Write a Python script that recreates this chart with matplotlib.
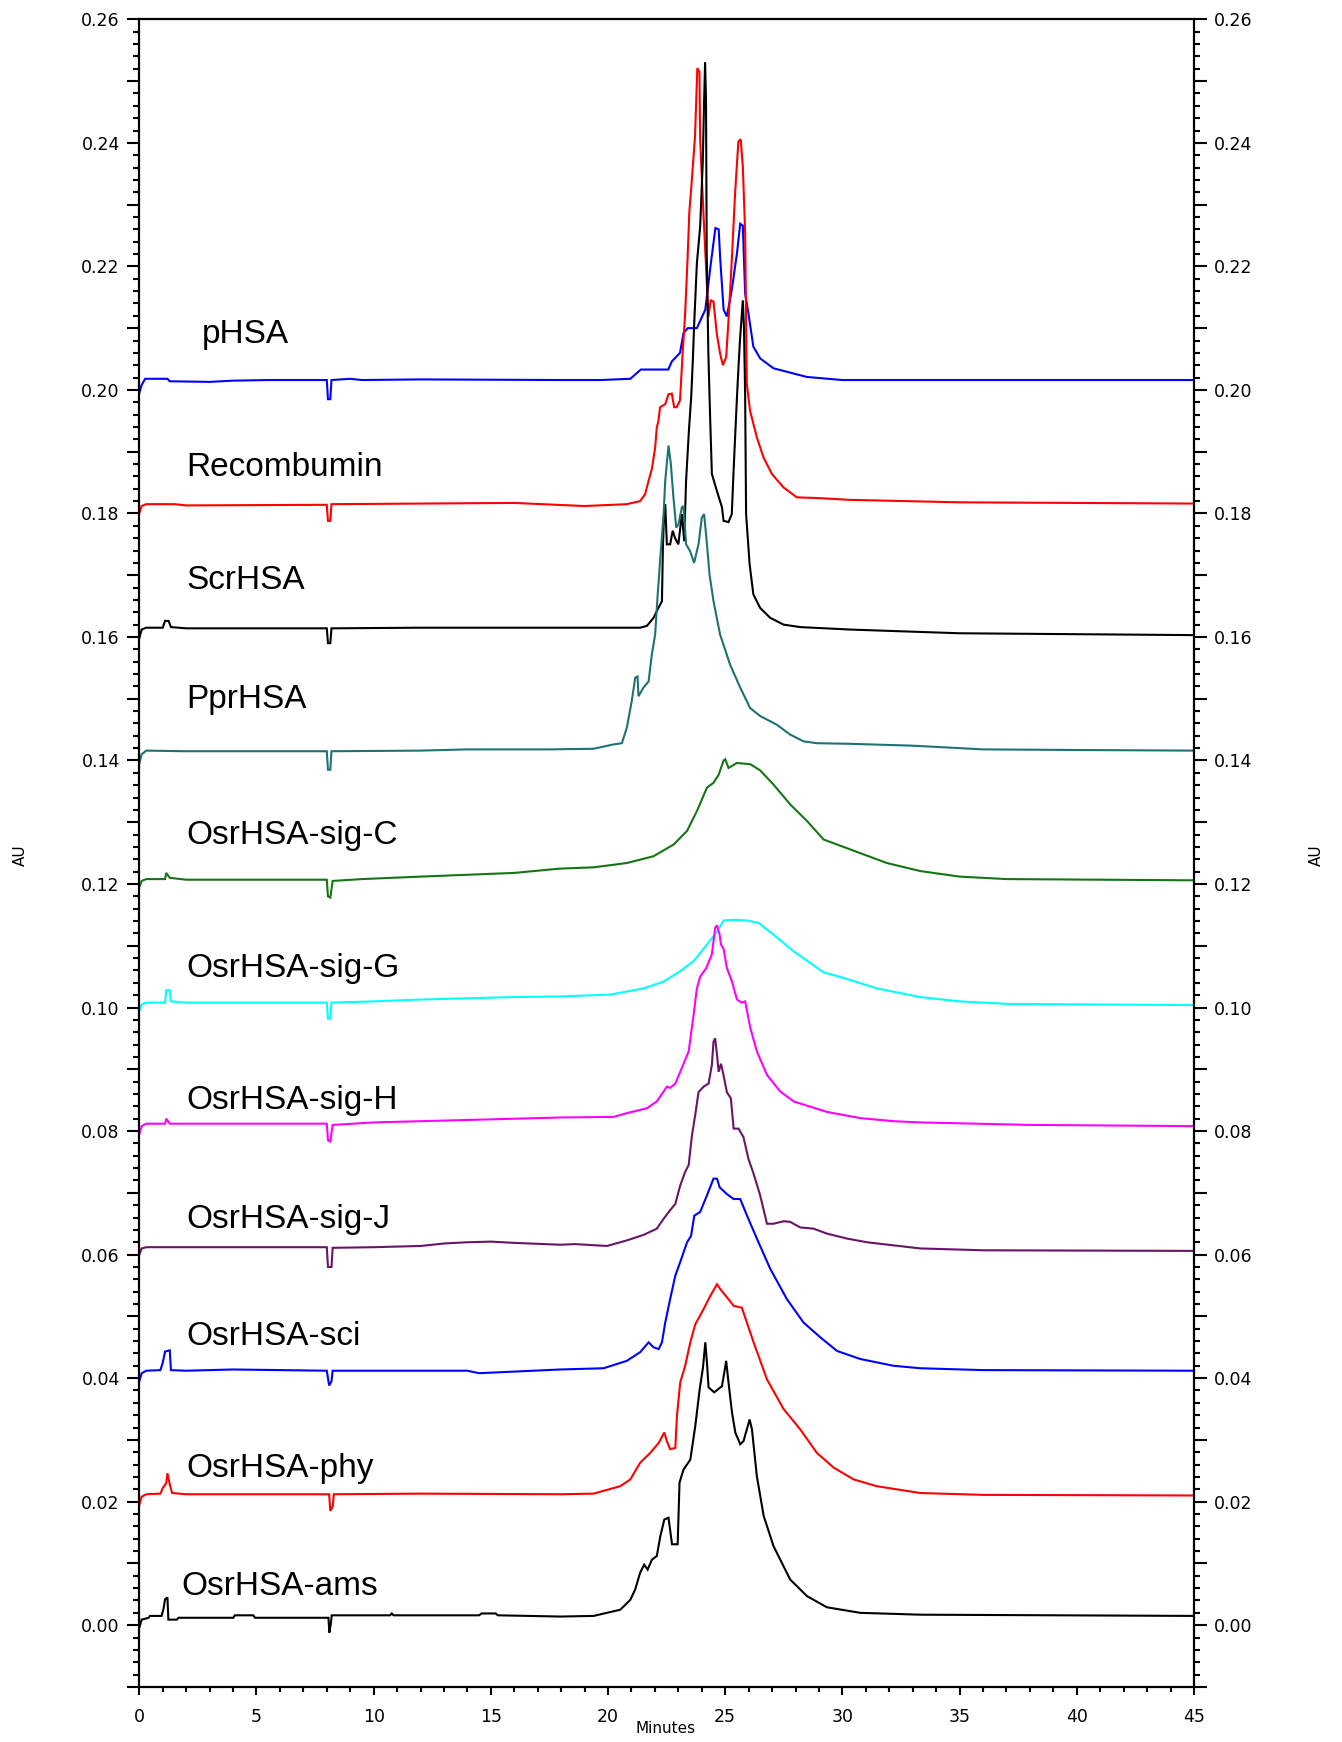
import matplotlib
matplotlib.use("Agg")
import matplotlib.pyplot as plt
from matplotlib.ticker import FixedLocator, MultipleLocator, FuncFormatter

# ---- chromatogram traces (retention time in minutes, absorbance in AU) ----
pHSA_t = [0.0, 0.1, 0.25, 1.2, 1.3, 3.0, 4.0, 5.5, 8.0, 8.05, 8.15, 8.2, 9.0, 9.5, 12.0, 18.0,
          19.66, 20.95, 21.4, 22.57, 22.72, 23.07, 23.22, 23.4, 23.79, 24.15, 24.37, 24.58, 24.72,
          24.79, 24.93, 25.07, 25.28, 25.5, 25.64, 25.75, 25.85, 25.99, 26.2, 26.49, 27.06, 28.48,
          30.0, 45.0]
pHSA_a = [0.1995, 0.2008, 0.2018, 0.2018, 0.2014, 0.2013, 0.2015, 0.2016, 0.2016, 0.1985, 0.1985,
          0.2016, 0.2018, 0.2016, 0.2017, 0.2016,
          0.2016, 0.2018, 0.2033, 0.2033, 0.2046, 0.2060, 0.2092, 0.2100, 0.2100, 0.2130, 0.2200,
          0.2262, 0.2260, 0.2210, 0.2130, 0.2119, 0.2162, 0.2221, 0.2269, 0.2266, 0.2156, 0.2124,
          0.2070, 0.2051, 0.2035, 0.2021, 0.2016, 0.2016]

recombumin_t = [0.0, 0.1, 0.3, 1.5, 2.0, 8.0, 8.05, 8.15, 8.2, 12.0, 16.0, 19.0, 20.8, 21.37, 21.58,
                21.73, 21.87, 22.01, 22.08, 22.15, 22.22, 22.44, 22.58, 22.72, 22.82, 22.93, 23.07,
                23.19, 23.29, 23.39, 23.47, 23.57, 23.71, 23.81, 23.9, 23.93, 24.07, 24.18, 24.28,
                24.38, 24.5, 24.64, 24.78, 24.9, 25.04, 25.14, 25.28, 25.42, 25.56, 25.66, 25.75,
                25.85, 25.92, 26.06, 26.35, 26.63, 26.99, 27.49, 28.06, 28.91, 30.33, 35.0, 45.0]
recombumin_a = [0.1800, 0.1812, 0.1815, 0.1815, 0.1813, 0.1814, 0.1788, 0.1788, 0.1815, 0.1816,
                0.1817, 0.1812, 0.1815, 0.1820, 0.1831, 0.1853, 0.1872, 0.1907, 0.1939, 0.1950,
                0.1972, 0.1977, 0.1993, 0.1994, 0.1972, 0.1972, 0.1983, 0.2064, 0.2124, 0.2210,
                0.2289, 0.2337, 0.2410, 0.2521, 0.2515, 0.2405, 0.2286, 0.2200, 0.2118, 0.2145,
                0.2143, 0.2091, 0.2059, 0.2040, 0.2053, 0.2113, 0.2210, 0.2318, 0.2402, 0.2406,
                0.2362, 0.2254, 0.2010, 0.1966, 0.1923, 0.1891, 0.1864, 0.1842, 0.1826, 0.1825,
                0.1822, 0.1818, 0.1816]

scrHSA_t = [0.0, 0.1, 0.3, 1.0, 1.1, 1.25, 1.35, 2.0, 8.0, 8.05, 8.15, 8.2, 12.0, 18.0, 21.37, 21.66,
            21.94, 22.15, 22.3, 22.34, 22.4, 22.44, 22.51, 22.65, 22.76, 22.86, 23.0, 23.15, 23.25,
            23.33, 23.45, 23.55, 23.62, 23.67, 23.79, 23.93, 24.04, 24.1, 24.14, 24.18, 24.21,
            24.28, 24.36, 24.43, 24.64, 24.86, 24.93, 25.14, 25.28, 25.35, 25.5, 25.57, 25.63,
            25.75, 25.8, 25.85, 25.89, 26.04, 26.2, 26.49, 26.92, 27.49, 28.2, 30.33, 35.0, 45.0]
scrHSA_a = [0.1598, 0.1612, 0.1615, 0.1615, 0.1626, 0.1626, 0.1616, 0.1614, 0.1614, 0.1590, 0.1590,
            0.1614, 0.1615, 0.1615, 0.1615, 0.1618, 0.1631, 0.1647, 0.1658, 0.1745, 0.1810, 0.1815,
            0.1750, 0.1750, 0.1772, 0.1760, 0.1750, 0.1799, 0.1755, 0.1853, 0.1934, 0.1990, 0.2050,
            0.2102, 0.2205, 0.2264, 0.2367, 0.2470, 0.2530, 0.2470, 0.2221, 0.2059, 0.1950, 0.1864,
            0.1837, 0.1810, 0.1788, 0.1786, 0.1799, 0.1864, 0.1988, 0.2040, 0.2081, 0.2145, 0.2100,
            0.1990, 0.1799, 0.1718, 0.1669, 0.1647, 0.1631, 0.1620, 0.1616, 0.1612, 0.1606, 0.1603]

pprHSA_t = [0.0, 0.1, 0.3, 2.0, 8.0, 8.05, 8.15, 8.2, 12.0, 14.0, 16.0, 17.53, 19.38, 20.23, 20.59,
            20.8, 21.01, 21.16, 21.26, 21.3, 21.51, 21.73, 21.87, 22.01, 22.11, 22.22, 22.37, 22.44,
            22.58, 22.68, 22.79, 22.91, 23.01, 23.15, 23.22, 23.33, 23.5, 23.67, 23.86, 24.0, 24.1,
            24.22, 24.33, 24.5, 24.78, 25.21, 25.64, 26.06, 26.49, 27.2, 27.77, 28.34, 28.91, 30.33,
            33.0, 36.0, 40.0, 45.0]
pprHSA_a = [0.1395, 0.1410, 0.1416, 0.1415, 0.1415, 0.1385, 0.1385, 0.1415, 0.1416, 0.1418, 0.1418,
            0.1418, 0.1419, 0.1426, 0.1428, 0.1453, 0.1496, 0.1534, 0.1536, 0.1504, 0.1518, 0.1528,
            0.1572, 0.1604, 0.1664, 0.1723, 0.1799, 0.1853, 0.1910, 0.1880, 0.1826, 0.1777, 0.1783,
            0.1810, 0.1812, 0.1750, 0.1739, 0.1720, 0.1750, 0.1793, 0.1799, 0.1750, 0.1701, 0.1658,
            0.1604, 0.1555, 0.1518, 0.1485, 0.1472, 0.1458, 0.1442, 0.1431, 0.1428, 0.1427, 0.1424,
            0.1418, 0.1417, 0.1416]

sigC_t = [0.0, 0.1, 0.3, 1.1, 1.15, 1.3, 2.0, 8.0, 8.05, 8.15, 8.25, 9.5, 12.0, 14.0, 16.0, 17.96,
          19.38, 20.8, 21.94, 22.8, 23.37, 23.79, 24.22, 24.5, 24.72, 24.93, 25.0, 25.14, 25.5,
          26.07, 26.49, 27.06, 27.77, 28.49, 29.2, 29.77, 30.76, 31.9, 33.32, 35.0, 37.0, 45.0]
sigC_a = [0.1195, 0.1205, 0.1208, 0.1208, 0.1218, 0.1210, 0.1207, 0.1207, 0.1180, 0.1178, 0.1205,
          0.1208, 0.1212, 0.1215, 0.1218, 0.1225, 0.1227, 0.1234, 0.1245, 0.1264, 0.1286, 0.1318,
          0.1356, 0.1364, 0.1377, 0.1400, 0.1402, 0.1388, 0.1396, 0.1394, 0.1384, 0.1361, 0.1329,
          0.1302, 0.1272, 0.1264, 0.1250, 0.1234, 0.1221, 0.1212, 0.1208, 0.1206]

sigG_t = [0.0, 0.1, 0.3, 1.1, 1.15, 1.3, 1.35, 2.0, 8.0, 8.05, 8.15, 8.2, 10.0, 12.0, 14.0, 16.0,
          17.96, 20.09, 21.52, 22.37, 23.08, 23.65, 24.22, 24.65, 24.93, 25.36, 25.93, 26.42, 27.06,
          27.92, 29.2, 30.05, 31.47, 33.32, 35.0, 37.0, 45.0]
sigG_a = [0.0995, 0.1005, 0.1008, 0.1008, 0.1028, 0.1028, 0.1010, 0.1008, 0.1008, 0.0982, 0.0982,
          0.1008, 0.1010, 0.1013, 0.1015, 0.1017, 0.1018, 0.1021, 0.1031, 0.1042, 0.1059, 0.1075,
          0.1102, 0.1123, 0.1141, 0.1142, 0.1141, 0.1137, 0.1118, 0.1091, 0.1057, 0.1048, 0.1031,
          0.1017, 0.1010, 0.1006, 0.1004]

sigH_t = [0.0, 0.1, 0.3, 1.1, 1.15, 1.3, 8.0, 8.05, 8.15, 8.25, 10.0, 12.0, 14.0, 16.0, 17.96, 20.24,
          20.8, 21.66, 22.08, 22.37, 22.51, 22.65, 22.87, 23.08, 23.44, 23.65, 23.79, 23.93, 24.19,
          24.43, 24.57, 24.65, 24.76, 24.82, 24.93, 25.07, 25.29, 25.5, 25.71, 25.85, 26.07, 26.35,
          26.78, 27.35, 27.92, 29.34, 30.76, 32.19, 33.32, 38.0, 45.0]
sigH_a = [0.0795, 0.0808, 0.0812, 0.0812, 0.0820, 0.0812, 0.0812, 0.0785, 0.0783, 0.0810, 0.0814,
          0.0816, 0.0818, 0.0820, 0.0822, 0.0823, 0.0829, 0.0837, 0.0848, 0.0864, 0.0872, 0.0870,
          0.0877, 0.0896, 0.0929, 0.0988, 0.1031, 0.1050, 0.1064, 0.1086, 0.1129, 0.1133, 0.1118,
          0.1102, 0.1095, 0.1064, 0.1042, 0.1013, 0.1008, 0.1010, 0.0967, 0.0929, 0.0891, 0.0864,
          0.0848, 0.0831, 0.0821, 0.0816, 0.0814, 0.0810, 0.0808]

sigJ_t = [0.0, 0.1, 0.3, 2.0, 8.0, 8.05, 8.2, 8.25, 10.0, 12.0, 13.0, 14.0, 15.0, 16.0, 17.96, 18.6,
          19.95, 20.8, 21.52, 22.08, 22.37, 22.65, 22.87, 23.08, 23.29, 23.44, 23.58, 23.72, 23.86,
          24.08, 24.29, 24.43, 24.5, 24.57, 24.65, 24.72, 24.82, 24.93, 25.07, 25.24, 25.36, 25.57,
          25.78, 25.99, 26.21, 26.49, 26.78, 27.06, 27.49, 27.77, 28.2, 28.77, 29.34, 30.19, 31.05,
          32.18, 33.32, 36.0, 45.0]
sigJ_a = [0.0600, 0.0610, 0.0612, 0.0612, 0.0612, 0.0580, 0.0580, 0.0611, 0.0612, 0.0614, 0.0618,
          0.0620, 0.0621, 0.0619, 0.0616, 0.0617, 0.0614, 0.0623, 0.0632, 0.0642, 0.0658, 0.0672,
          0.0682, 0.0712, 0.0734, 0.0745, 0.0793, 0.0826, 0.0863, 0.0872, 0.0877, 0.0907, 0.0945,
          0.0950, 0.0923, 0.0896, 0.0909, 0.0890, 0.0863, 0.0853, 0.0804, 0.0804, 0.0790, 0.0755,
          0.0731, 0.0696, 0.0650, 0.0650, 0.0654, 0.0653, 0.0644, 0.0642, 0.0634, 0.0626, 0.0620,
          0.0615, 0.0610, 0.0607, 0.0606]

sci_t = [0.0, 0.1, 0.3, 0.9, 1.0, 1.1, 1.3, 1.35, 2.0, 4.0, 8.0, 8.1, 8.2, 8.25, 10.0, 14.0, 14.5,
         17.96, 19.81, 20.8, 21.37, 21.73, 21.94, 22.16, 22.3, 22.44, 22.65, 22.87, 23.08, 23.37,
         23.54, 23.68, 23.93, 24.22, 24.5, 24.65, 24.76, 25.07, 25.36, 25.64, 25.93, 26.35, 26.92,
         27.63, 28.34, 29.06, 29.77, 30.76, 32.18, 33.32, 36.0, 45.0]
sci_a = [0.0395, 0.0408, 0.0412, 0.0413, 0.0425, 0.0443, 0.0445, 0.0413, 0.0412, 0.0414, 0.0412,
         0.0388, 0.0395, 0.0412, 0.0412, 0.0412, 0.0408, 0.0414, 0.0416, 0.0428, 0.0442, 0.0458,
         0.0450, 0.0447, 0.0458, 0.0490, 0.0528, 0.0566, 0.0588, 0.0620, 0.0630, 0.0663, 0.0669,
         0.0696, 0.0723, 0.0723, 0.0709, 0.0698, 0.0690, 0.0690, 0.0663, 0.0626, 0.0577, 0.0528,
         0.0490, 0.0466, 0.0444, 0.0431, 0.0420, 0.0416, 0.0413, 0.0412]

phy_t = [0.0, 0.1, 0.3, 0.9, 1.0, 1.15, 1.2, 1.3, 1.4, 2.0, 8.1, 8.15, 8.25, 8.3, 12.0, 18.0, 19.38,
         20.52, 20.95, 21.37, 21.8, 22.16, 22.4, 22.51, 22.65, 22.87, 22.94, 23.08, 23.29, 23.51,
         23.72, 24.08, 24.36, 24.65, 24.79, 25.07, 25.36, 25.71, 26.21, 26.78, 27.49, 28.2, 28.91,
         29.63, 30.48, 31.47, 33.32, 36.0, 45.0]
phy_a = [0.0195, 0.0208, 0.0212, 0.0213, 0.0222, 0.0230, 0.0246, 0.0228, 0.0214, 0.0212, 0.0212,
         0.0185, 0.0192, 0.0212, 0.0213, 0.0212, 0.0213, 0.0225, 0.0236, 0.0263, 0.0279, 0.0295,
         0.0312, 0.0298, 0.0285, 0.0287, 0.0339, 0.0393, 0.0420, 0.0458, 0.0487, 0.0512, 0.0533,
         0.0552, 0.0544, 0.0531, 0.0517, 0.0514, 0.0458, 0.0398, 0.0350, 0.0317, 0.0279, 0.0255,
         0.0236, 0.0225, 0.0214, 0.0211, 0.0210]

ams_t = [0.0, 0.1, 0.4, 0.45, 0.95, 1.03, 1.1, 1.2, 1.24, 1.6, 1.67, 4.01, 4.08, 4.86, 4.94, 8.07,
         8.11, 8.17, 8.21, 10.7, 10.77, 10.85, 14.5, 14.6, 15.2, 15.3, 17.96, 19.38, 20.52, 20.95,
         21.16, 21.37, 21.54, 21.69, 21.87, 22.08, 22.23, 22.4, 22.58, 22.73, 22.97, 23.05, 23.22,
         23.51, 23.72, 23.91, 24.05, 24.15, 24.22, 24.29, 24.53, 24.86, 24.96, 25.04, 25.14, 25.29,
         25.43, 25.64, 25.78, 26.04, 26.14, 26.35, 26.64, 27.06, 27.77, 28.49, 29.34, 30.76, 33.32,
         45.0]
ams_a = [-0.0004, 0.0009, 0.0012, 0.0015, 0.0015, 0.0026, 0.0042, 0.0045, 0.0009, 0.0009, 0.0012,
         0.0012, 0.0016, 0.0016, 0.0012, 0.0012, -0.0012, 0.0002, 0.0016, 0.0016, 0.0019, 0.0016,
         0.0016, 0.0019, 0.0019, 0.0016, 0.0014, 0.0015, 0.0025, 0.0041, 0.0058, 0.0085, 0.0098,
         0.0090, 0.0106, 0.0112, 0.0144, 0.0171, 0.0174, 0.0131, 0.0131, 0.0231, 0.0252, 0.0268,
         0.0322, 0.0382, 0.0417, 0.0458, 0.0425, 0.0385, 0.0377, 0.0387, 0.0409, 0.0428, 0.0393,
         0.0344, 0.0312, 0.0293, 0.0298, 0.0333, 0.0317, 0.0241, 0.0177, 0.0128, 0.0074, 0.0047,
         0.0029, 0.0020, 0.0017, 0.0015]

sample_names = ["pHSA", "Recombumin", "ScrHSA", "PprHSA", "OsrHSA-sig-C", "OsrHSA-sig-G",
                "OsrHSA-sig-H", "OsrHSA-sig-J", "OsrHSA-sci", "OsrHSA-phy", "OsrHSA-ams"]
trace_times = [pHSA_t, recombumin_t, scrHSA_t, pprHSA_t, sigC_t, sigG_t, sigH_t, sigJ_t,
               sci_t, phy_t, ams_t]
trace_absorb = [pHSA_a, recombumin_a, scrHSA_a, pprHSA_a, sigC_a, sigG_a, sigH_a, sigJ_a,
                sci_a, phy_a, ams_a]
trace_colors = ["#0000ff", "#ff0000", "#000000", "#1e7272", "#157515", "#00ffff", "#ff00ff",
                "#6a1468", "#0000ff", "#ff0000", "#000000"]

# name label anchors (left x in minutes, vertical centre in AU)
label_x = [2.68, 2.02, 2.02, 2.02, 2.02, 2.02, 2.02, 2.02, 2.02, 2.02, 1.78]
label_y = [0.2090, 0.1875, 0.1692, 0.1499, 0.1278, 0.1064, 0.0849, 0.0657, 0.0467, 0.0253, 0.0062]

x_ticks = [0, 5, 10, 15, 20, 25, 30, 35, 40, 45]

# ---- figure ----
fig = plt.figure(figsize=(13.42, 17.42), dpi=100)
ax = fig.add_axes([0.1038, 0.0316, 0.7859, 0.9573])

for t, a, c in zip(trace_times, trace_absorb, trace_colors):
    ax.plot(t, a, color=c, lw=1.5, solid_joinstyle="miter")

for name, lx, ly in zip(sample_names, label_x, label_y):
    ax.text(lx, ly, name, fontsize=24, family="Liberation Sans", ha="left", va="center",
            color="black")

ax.set_xlim(0, 45)
ax.set_ylim(-0.01, 0.26)

ax.xaxis.set_major_locator(FixedLocator(x_ticks))
ax.xaxis.set_minor_locator(MultipleLocator(1))
major_y = [round(-0.01 + 0.01 * i, 2) for i in range(28)]
ax.yaxis.set_major_locator(FixedLocator(major_y))
ax.yaxis.set_minor_locator(MultipleLocator(0.002))


def ylab(v, pos):
    k = round(v * 100)
    if k >= 0 and k % 2 == 0:
        return f"{v:.2f}"
    return ""


ax.yaxis.set_major_formatter(FuncFormatter(ylab))

ax.tick_params(axis="y", which="both", left=True, right=True, labelleft=True, labelright=True,
               direction="out", width=1.5, labelsize=12.5, pad=5)
ax.tick_params(axis="y", which="major", length=9)
ax.tick_params(axis="y", which="minor", length=4.5)
ax.tick_params(axis="x", which="both", top=False, direction="out", width=1.5, labelsize=12.5,
               pad=9)
ax.tick_params(axis="x", which="major", length=6)
ax.tick_params(axis="x", which="minor", length=3.5)

for s in ax.spines.values():
    s.set_linewidth(1.6)

fig.text(0.4963, 0.0075, "Minutes", fontsize=11, ha="center", va="center")
fig.text(0.0149, 0.509, "AU", fontsize=11, rotation=90, ha="center", va="center")
fig.text(0.9806, 0.509, "AU", fontsize=11, rotation=90, ha="center", va="center")

fig.savefig("out.png", dpi=100, facecolor="white")
